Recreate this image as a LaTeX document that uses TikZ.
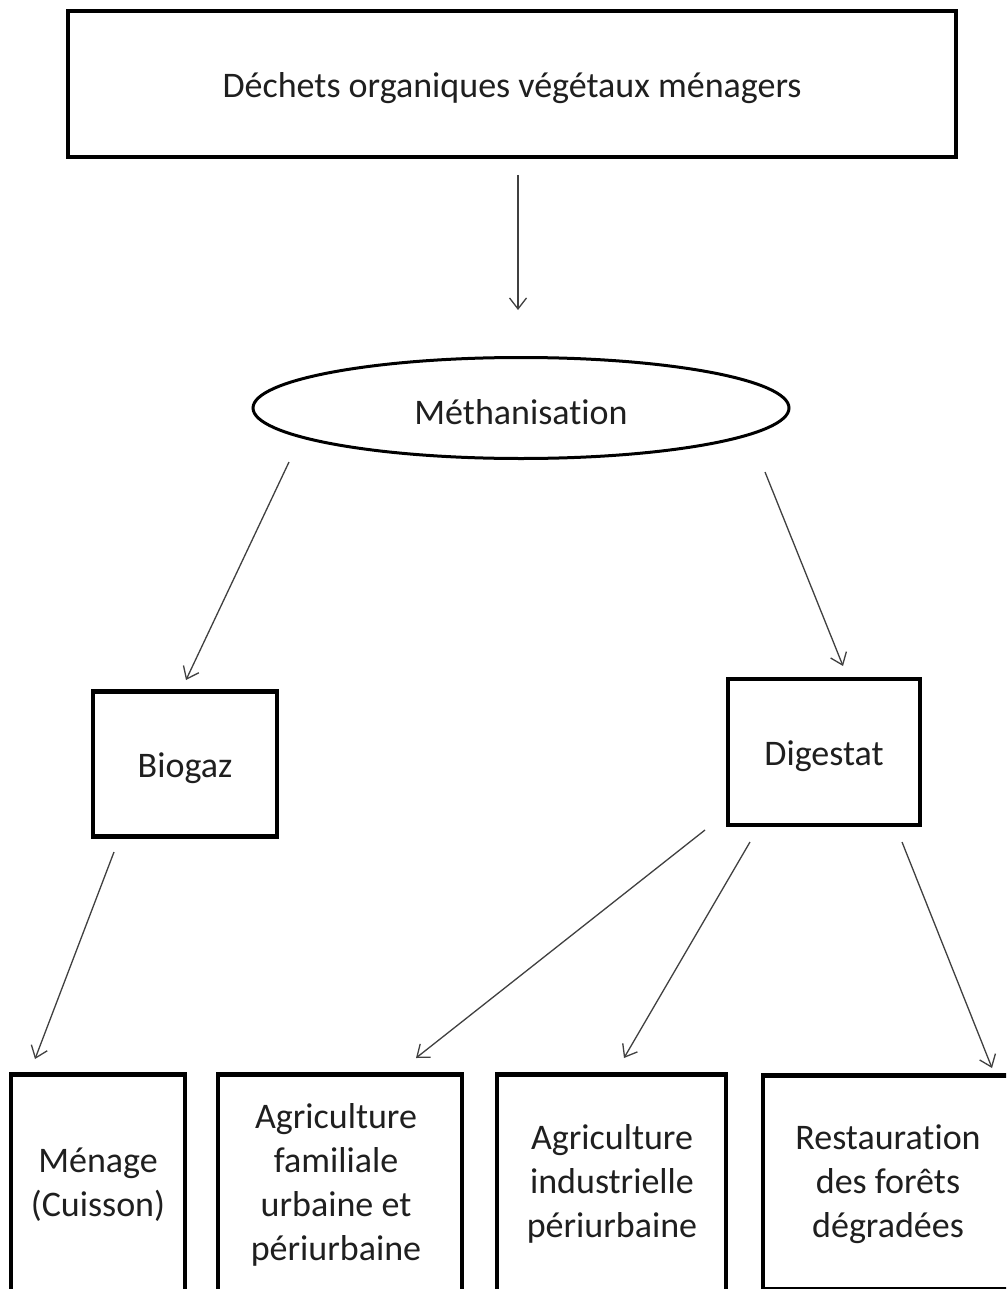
\documentclass[tikz,border=0pt]{standalone}
\usepackage{fontspec}
\setmainfont{Carlito}[Ligatures=NoCommon]
\usetikzlibrary{shapes.geometric,arrows.meta}
\newcommand{\lowr}[1]{\raisebox{-4pt}[\height][\depth]{#1}}
\begin{document}
\begin{tikzpicture}[x=1pt,y=-1pt,
  box/.style={draw=black, line width=4.5pt, inner sep=0pt, align=center, text=black!88, font=\fontsize{36}{44}\selectfont},
  oval/.style={draw=black, ellipse, line width=3pt, inner sep=0pt, text=black!88, font=\fontsize{36}{44}\selectfont},
  txt/.style={align=center, inner sep=0pt, text=black!88, font=\fontsize{36}{44}\selectfont},
  flow/.style={draw=black!75, line width=1.3pt, -{Straight Barb[length=11pt,width=17pt,line width=1.3pt]}}]
\useasboundingbox (0,0) rectangle (1006,1289);
\fill[white] (0,0) rectangle (1006,1289);
\clip (0,0) rectangle (1006,1289);

% nodes
\node[box, minimum width=888pt, minimum height=146pt] (dechets) at (512,84) {\lowr{Déchets organiques végétaux ménagers}};
\node[oval, minimum width=536pt, minimum height=101pt] (meth) at (521,408) {\lowr{Méthanisation}};
\node[box, minimum width=184pt, minimum height=145pt] (biogaz) at (185,764) {\lowr{Biogaz}};
\node[box, minimum width=192pt, minimum height=146pt] (digestat) at (824,752) {\lowr{Digestat}};

\node[box, anchor=north, minimum width=174pt, minimum height=240pt] (menage) at (98,1072) {};
\node[txt] (menageT) at (98,1185) {Ménage\\(Cuisson)};
\node[box, anchor=north, minimum width=244pt, minimum height=240pt] (agrifam) at (340,1072) {};
\node[txt] (agrifamT) at (336,1185) {Agriculture\\familiale\\urbaine et\\périurbaine};
\node[box, anchor=north, minimum width=229pt, minimum height=240pt] (agriind) at (611.5,1072) {};
\node[txt] (agriindT) at (612,1184) {Agriculture\\industrielle\\périurbaine};
\node[box, anchor=north, minimum width=250pt, minimum height=214pt] (resto) at (888,1073) {};
\node[txt] (restoT) at (888,1184) {Restauration\\des forêts\\dégradées};

% connector ends
\coordinate (a1s) at (518,175);  \coordinate (a1e) at (518,310);
\coordinate (a2s) at (289,462);  \coordinate (a2e) at (186,680);
\coordinate (a3s) at (765,472);  \coordinate (a3e) at (843,666);
\coordinate (a4s) at (114,852);  \coordinate (a4e) at (35,1059);
\coordinate (a5s) at (705,830);  \coordinate (a5e) at (416,1058);
\coordinate (a6s) at (750,842);  \coordinate (a6e) at (624,1058);
\coordinate (a7s) at (902,842);  \coordinate (a7e) at (992,1068);

\draw[flow] (a1s) -- (a1e);
\draw[flow] (a2s) -- (a2e);
\draw[flow] (a3s) -- (a3e);
\draw[flow] (a4s) -- (a4e);
\draw[flow] (a5s) -- (a5e);
\draw[flow] (a6s) -- (a6e);
\draw[flow] (a7s) -- (a7e);
\end{tikzpicture}
\end{document}
